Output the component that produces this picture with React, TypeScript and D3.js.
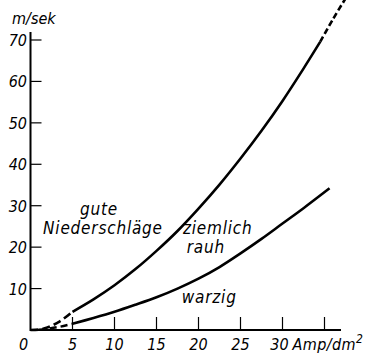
import React from "react";
import * as d3 from "d3";

const xTicks = [5, 10, 15, 20, 25, 30, 35];
const yTicks = [10, 20, 30, 40, 50, 60, 70];
const xTickLabels = ["5", "10", "15", "20", "25", "30"];
const yTickLabels = ["10", "20", "30", "40", "50", "60", "70"];

// upper curve (boundary: gute Niederschläge / ziemlich rauh)
const upperX = [0, 1, 2, 3.5, 5, 7.5, 10, 12.5, 15, 17.5, 20, 22.5, 25, 27.5, 30, 32.5, 34.5, 36, 37.8];
const upperY = [0, 0.1, 0.6, 2.1, 4.4, 7.4, 10.8, 14.7, 19.1, 23.9, 29.3, 35.1, 41.4, 48.1, 55.3, 63.1, 69.6, 75.0, 81.0];
// lower curve (boundary: ziemlich rauh / warzig)
const lowerX = [0, 1, 2, 3.5, 5, 7.5, 10, 12.5, 15, 17.5, 20, 22.5, 25, 27.5, 30, 32.5, 35.6];
const lowerY = [0, 0.05, 0.3, 0.8, 1.5, 2.9, 4.4, 6.1, 7.9, 10.0, 12.4, 15.2, 18.5, 22.0, 25.7, 29.4, 34.2];

const regionLabels = ["gute", "Niederschläge", "ziemlich", "rauh", "warzig"];
const regionLabelX = [5.9, 1.5, 18.15, 18.6, 18.0];
const regionLabelY = [27.8, 23.2, 23.2, 18.6, 6.5];

const FONT = "'Liberation Sans Narrow', 'DejaVu Sans Condensed', 'Liberation Sans', sans-serif";

export default function App() {
  const x = d3.scaleLinear().domain([0, 35]).range([30.5, 324.5]);
  const y = d3.scaleLinear().domain([0, 70]).range([330, 40]);

  const line = d3
    .line<[number, number]>()
    .x((d) => x(d[0]))
    .y((d) => y(d[1]))
    .curve(d3.curveCatmullRom.alpha(0.5));

  const pts = (xs: number[], ys: number[], lo: number, hi: number) =>
    xs.map((v, i) => [v, ys[i]] as [number, number]).filter((p) => p[0] >= lo && p[0] <= hi);

  const upperDash1 = line(pts(upperX, upperY, 0, 5));
  const upperSolid = line(pts(upperX, upperY, 5, 34.5));
  const upperDash2 = line(pts(upperX, upperY, 34.5, 40));
  const lowerDash = line(pts(lowerX, lowerY, 1, 5));
  const lowerSolid = line(pts(lowerX, lowerY, 5, 40));

  const textStyle: React.CSSProperties = { fontFamily: FONT, fontStyle: "italic", fontSize: 16 };

  return (
    <svg
      width={370}
      height={353}
      style={{ position: "absolute", left: 0, top: 0, background: "#fff" }}
    >
      {/* axes */}
      <line x1={x(0)} y1={y(0)} x2={341} y2={y(0)} stroke="#000" strokeWidth={2} />
      <line x1={x(0)} y1={y(0) + 1} x2={x(0)} y2={32} stroke="#000" strokeWidth={2} />
      {xTicks.map((t) => (
        <line key={"xt" + t} x1={x(t)} x2={x(t)} y1={y(0)} y2={y(0) - 13} stroke="#000" strokeWidth={1.2} />
      ))}
      {yTicks.map((t) => (
        <line key={"yt" + t} x1={x(0)} x2={x(0) + 11} y1={y(t)} y2={y(t)} stroke="#000" strokeWidth={1.2} />
      ))}
      {/* tick labels */}
      <g style={textStyle}>
        {xTickLabels.map((l, i) => (
          <text key={"xl" + l} x={x(xTicks[i]) - (l === "30" ? 3 : 0)} y={350} textAnchor="middle">
            {l}
          </text>
        ))}
        <text x={x(0) - 7} y={350} textAnchor="middle">0</text>
        <text x={x(30) + 10} y={350} letterSpacing={0.4}>
          Amp/dm<tspan dy={-7} fontSize={12}>2</tspan>
        </text>
        {yTickLabels.map((l, i) => (
          <text key={"yl" + l} x={27} y={y(yTicks[i]) + 6} textAnchor="end">
            {l}
          </text>
        ))}
        <text x={12} y={24}>m/sek</text>
      </g>
      {/* curves */}
      <path d={upperDash1 || ""} fill="none" stroke="#000" strokeWidth={2.6} strokeDasharray="8 4" />
      <path d={upperSolid || ""} fill="none" stroke="#000" strokeWidth={2.6} />
      <path d={upperDash2 || ""} fill="none" stroke="#000" strokeWidth={2.6} strokeDasharray="6 3" />
      <path d={lowerDash || ""} fill="none" stroke="#000" strokeWidth={2.4} strokeDasharray="7 4" />
      <path d={lowerSolid || ""} fill="none" stroke="#000" strokeWidth={2.6} />
      {/* region labels */}
      <g style={{ ...textStyle, fontSize: 17, letterSpacing: 0.8 }}>
        {regionLabels.map((l, i) => (
          <text key={l} x={x(regionLabelX[i])} y={y(regionLabelY[i])}>
            {l}
          </text>
        ))}
      </g>
    </svg>
  );
}
